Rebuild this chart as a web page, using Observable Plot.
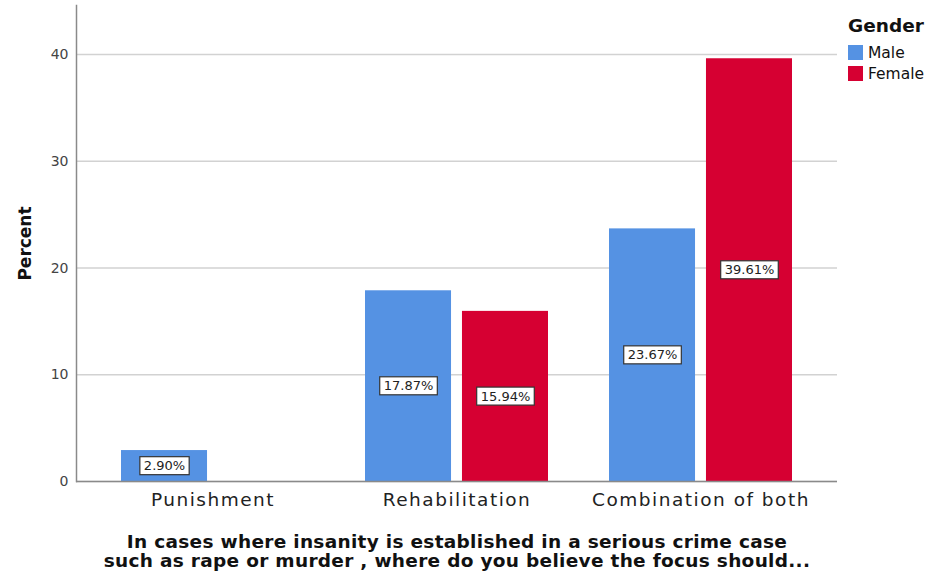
<!DOCTYPE html>
<html>
<head>
<meta charset="utf-8">
<script src="https://cdn.jsdelivr.net/npm/d3@7"></script>
<script src="https://cdn.jsdelivr.net/npm/@observablehq/plot@0.6"></script>
<style>
  html, body { margin: 0; padding: 0; background: white; }
  #wrap { position: relative; width: 928px; height: 571px; overflow: hidden; font-family: "DejaVu Sans", sans-serif; }
  #wrap svg g[aria-label="y-axis label"] text { font-weight: bold; font-size: 17px; fill: #111; }
  #wrap svg g[aria-label="x-axis tick label"] text { letter-spacing: 1.5px; }
  #legend { position: absolute; left: 848px; top: 15px; color: #111; }
  #legend .title { font-weight: bold; font-size: 18.5px; margin-bottom: 6px; }
  #legend .row { display: flex; align-items: center; font-size: 15.5px; height: 21px; }
  #legend .sw { width: 15px; height: 15px; margin-right: 5px; }
</style>
</head>
<body>
<div id="wrap">
  <div id="chart"></div>
  <div id="legend"></div>
</div>
<script>
// Survey answers by gender, in percent
const categories = ["Punishment", "Rehabilitation", "Combination of both"];
const genders = ["Male", "Female"];
const malePercent = [2.90, 17.87, 23.67];
const femalePercent = [0, 15.94, 39.61];
const genderColors = ["#5592e3", "#d60032"];
const yTicks = [0, 10, 20, 30, 40];
const xTitle = "In cases where insanity is established in a serious crime case\nsuch as rape or murder , where do you believe the focus should...";

const rows = categories.flatMap((category, i) => [
  {category, gender: "Male", value: malePercent[i]},
  {category, gender: "Female", value: femalePercent[i]}
]).filter(d => d.value > 0);
const male = rows.filter(d => d.gender === "Male");
const female = rows.filter(d => d.gender === "Female");

// layout of the grouped band scale
const width = 928, height = 571;
const marginLeft = 76, marginRight = 91, marginTop = 5, marginBottom = 90;
const padInner = 0.249, padOuter = 0.178, barGap = 10;
const step = (width - marginLeft - marginRight) / (categories.length - padInner + 2 * padOuter);
const bandWidth = step * (1 - padInner);
const barWidth = (bandWidth - barGap) / 2;
const shift = (barWidth + barGap) / 2;

const labelOpts = {
  x: "category",
  y: d => d.value / 2,
  text: d => d.value.toFixed(2) + "%",
  fontSize: 13,
  fill: "#222"
};

const chart = Plot.plot({
  width, height, marginLeft, marginRight, marginTop, marginBottom,
  style: {fontFamily: "DejaVu Sans, sans-serif", background: "white", color: "#333"},
  x: {domain: categories, paddingInner: padInner, paddingOuter: padOuter, axis: null},
  y: {domain: [0, 44.6], axis: null},
  color: {domain: genders, range: genderColors},
  marks: [
    Plot.gridY(yTicks, {stroke: "#d2d2d2", strokeOpacity: 1, strokeWidth: 1.5}),
    Plot.barY(male, {x: "category", y: "value", fill: "gender", insetRight: barWidth + barGap}),
    Plot.barY(female, {x: "category", y: "value", fill: "gender", insetLeft: barWidth + barGap}),
    Plot.ruleY([0], {stroke: "#8a8a8a", strokeWidth: 1.5}),
    Plot.frame({anchor: "left", stroke: "#8a8a8a", strokeWidth: 1.5}),
    Plot.axisY(yTicks, {tickSize: 0, tickPadding: 8, fontSize: 14, fill: "#444",
      label: "Percent", labelAnchor: "center", labelOffset: 58, labelArrow: "none"}),
    Plot.axisX({tickSize: 0, tickPadding: 11, fontSize: 18.5, fill: "#222", label: null}),
    Plot.text(male, {...labelOpts, dx: -shift}),
    Plot.text(female, {...labelOpts, dx: shift}),
    Plot.text([xTitle], {frameAnchor: "bottom", lineAnchor: "top", dy: 53, fontSize: 18.5,
      fontWeight: "bold", fill: "#111", lineHeight: 1.03, style: {letterSpacing: "0.3px"}})
  ]
});
document.getElementById("chart").appendChild(chart);

// title letter spacing
chart.querySelectorAll("text").forEach(t => {
  if (t.textContent.startsWith("In cases")) t.style.letterSpacing = "0.3px";
});

// boxed value labels
chart.querySelectorAll("text").forEach(t => {
  if (!/^\d+\.\d\d%$/.test(t.textContent)) return;
  const b = t.getBBox();
  const r = document.createElementNS("http://www.w3.org/2000/svg", "rect");
  r.setAttribute("x", b.x - 4);
  r.setAttribute("y", b.y - 1.5);
  r.setAttribute("width", b.width + 8);
  r.setAttribute("height", b.height + 3);
  r.setAttribute("fill", "white");
  r.setAttribute("stroke", "#333");
  r.setAttribute("stroke-width", 1.2);
  const tr = t.getAttribute("transform");
  if (tr) r.setAttribute("transform", tr);
  t.parentNode.insertBefore(r, t);
});

// legend
const legend = d3.select("#legend");
legend.append("div").attr("class", "title").text("Gender");
genders.forEach((g, i) => {
  const row = legend.append("div").attr("class", "row");
  row.append("div").attr("class", "sw").style("background", genderColors[i]);
  row.append("span").text(g);
});
</script>
</body>
</html>
